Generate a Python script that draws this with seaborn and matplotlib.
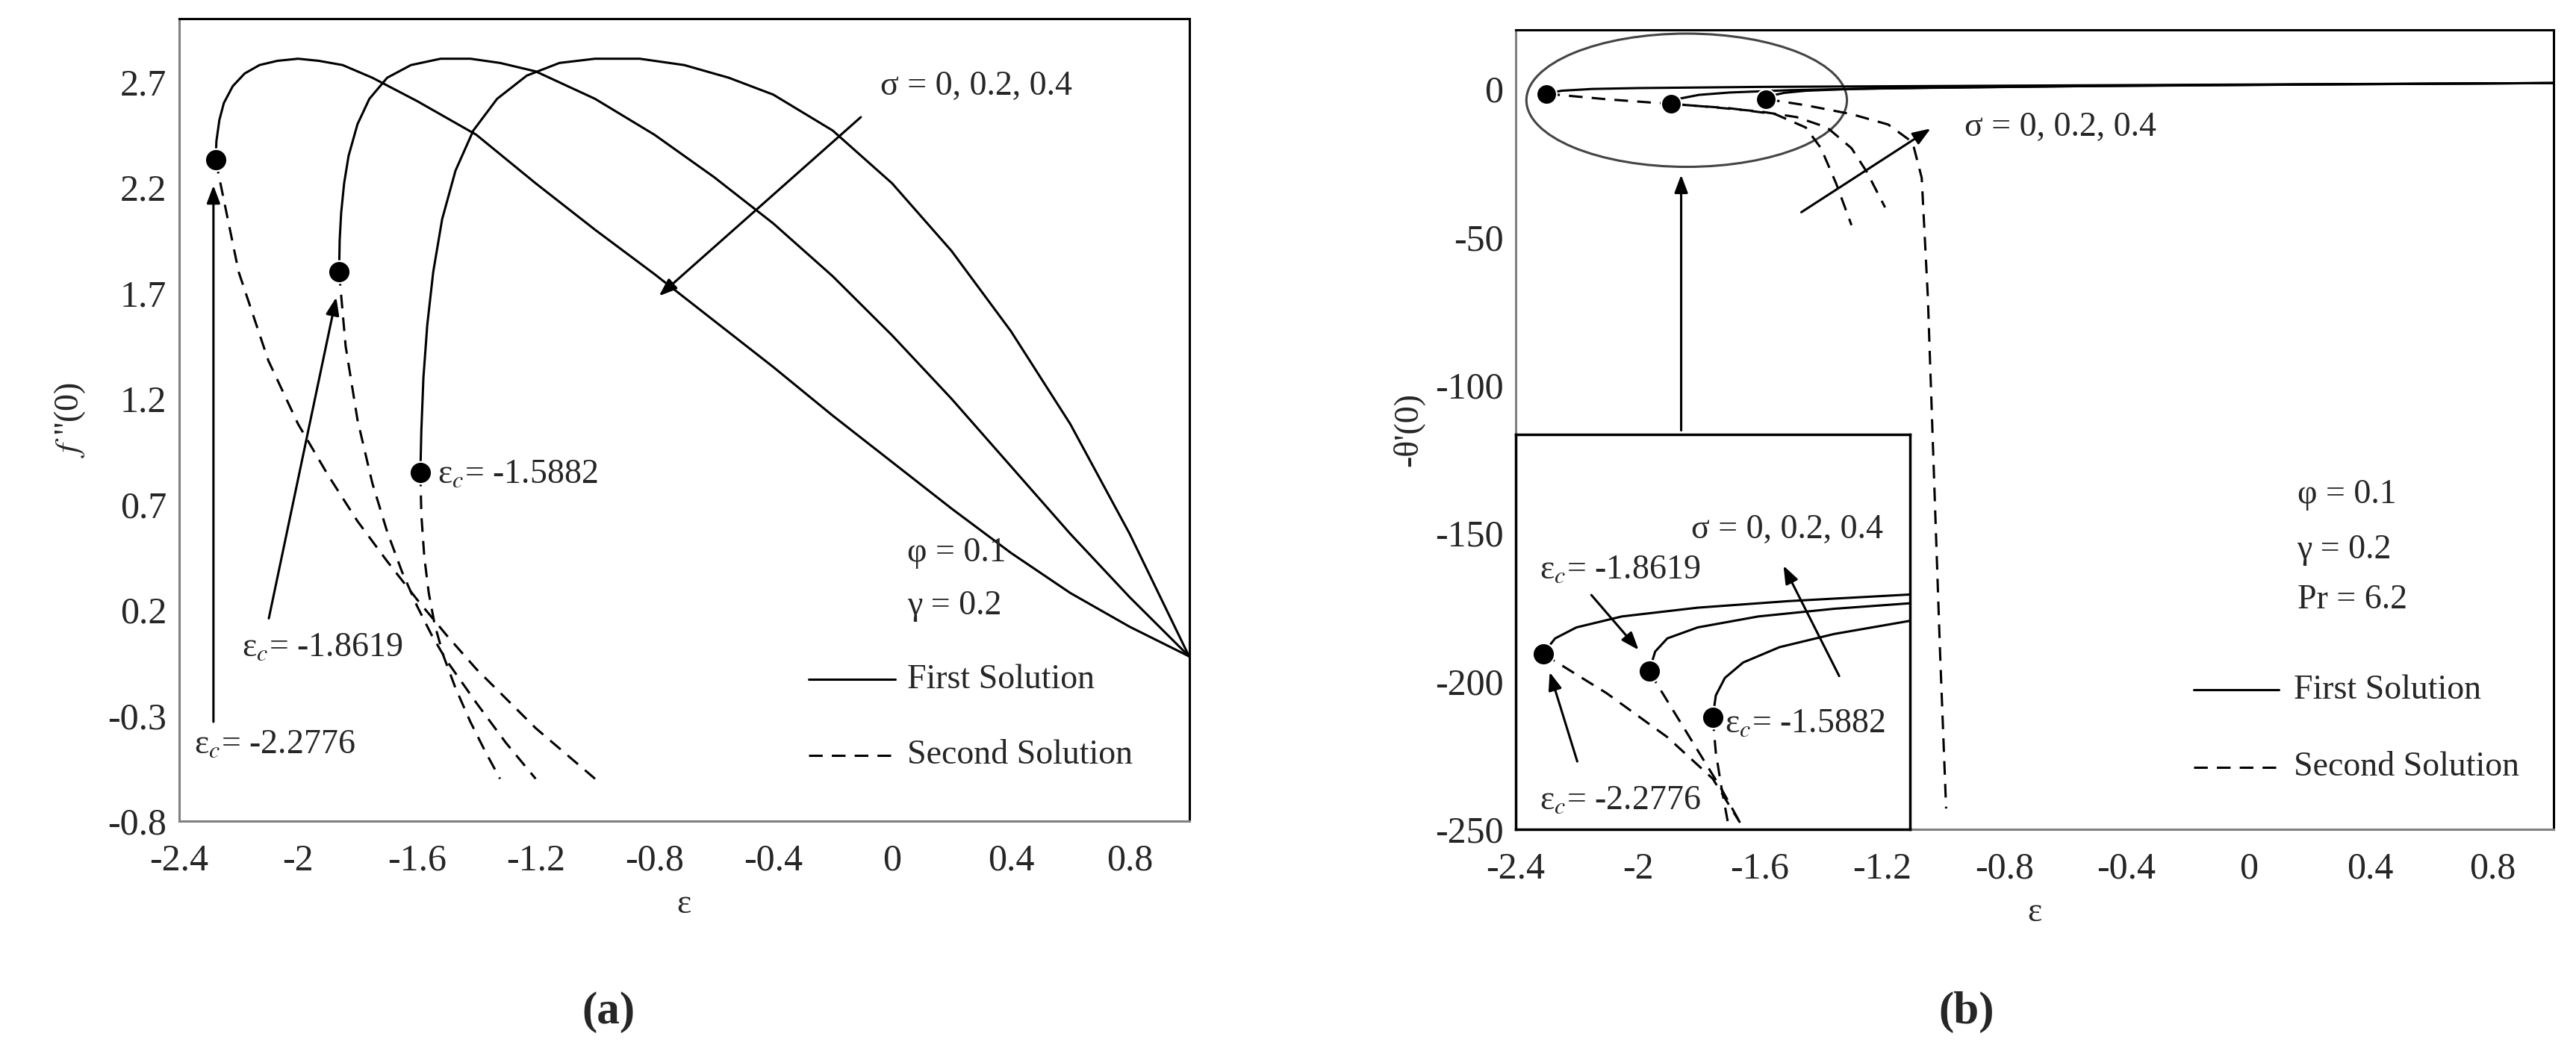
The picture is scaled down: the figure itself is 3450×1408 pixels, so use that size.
import numpy as np
import pandas as pd
import matplotlib
matplotlib.use("Agg")
import matplotlib.pyplot as plt
from matplotlib.patches import Ellipse
import seaborn as sns

sns.set_theme(style="white")
plt.rcParams['font.family'] = ['Liberation Serif', 'DejaVu Serif']
plt.rcParams['mathtext.fontset'] = 'stix'

# ---------- Panel (a) data ----------
a_first_s0_x = [-2.2776, -2.275, -2.265, -2.25, -2.22, -2.18, -2.13, -2.07, -2.00, -1.93, -1.85, -1.75, -1.60, -1.40, -1.20, -1.00, -0.80, -0.60, -0.40, -0.20, 0.00, 0.20, 0.40, 0.60, 0.80, 1.00]
a_first_s0_y = [2.33, 2.42, 2.52, 2.60, 2.68, 2.74, 2.78, 2.80, 2.81, 2.80, 2.78, 2.72, 2.61, 2.45, 2.22, 2.00, 1.79, 1.57, 1.35, 1.12, 0.90, 0.68, 0.47, 0.28, 0.12, -0.02]
a_first_s2_x = [-1.8619, -1.86, -1.855, -1.845, -1.83, -1.80, -1.76, -1.70, -1.62, -1.52, -1.42, -1.32, -1.20, -1.00, -0.80, -0.60, -0.40, -0.20, 0.00, 0.20, 0.40, 0.60, 0.80, 1.00]
a_first_s2_y = [1.80, 1.95, 2.08, 2.22, 2.35, 2.50, 2.62, 2.72, 2.78, 2.81, 2.81, 2.79, 2.75, 2.62, 2.45, 2.25, 2.03, 1.78, 1.50, 1.20, 0.88, 0.56, 0.26, -0.02]
a_first_s4_x = [-1.5882, -1.585, -1.578, -1.565, -1.545, -1.515, -1.47, -1.41, -1.33, -1.23, -1.12, -1.00, -0.85, -0.70, -0.55, -0.40, -0.20, 0.00, 0.20, 0.40, 0.60, 0.80, 1.00]
a_first_s4_y = [0.85, 1.05, 1.30, 1.55, 1.80, 2.05, 2.28, 2.47, 2.62, 2.73, 2.79, 2.81, 2.81, 2.78, 2.72, 2.64, 2.47, 2.22, 1.90, 1.52, 1.08, 0.56, -0.02]
a_second_s0_x = [-2.2776, -2.20, -2.10, -2.00, -1.90, -1.80, -1.70, -1.60, -1.50, -1.40, -1.30, -1.20, -1.10, -1.00]
a_second_s0_y = [2.33, 1.80, 1.38, 1.08, 0.84, 0.62, 0.43, 0.25, 0.08, -0.08, -0.22, -0.36, -0.48, -0.60]
a_second_s2_x = [-1.8619, -1.84, -1.80, -1.75, -1.70, -1.65, -1.60, -1.55, -1.50, -1.40, -1.30, -1.20]
a_second_s2_y = [1.80, 1.45, 1.10, 0.80, 0.57, 0.38, 0.22, 0.08, -0.04, -0.24, -0.43, -0.60]
a_second_s4_x = [-1.5882, -1.585, -1.575, -1.56, -1.54, -1.51, -1.47, -1.42, -1.37, -1.32]
a_second_s4_y = [0.85, 0.65, 0.45, 0.28, 0.13, -0.02, -0.17, -0.33, -0.47, -0.60]
a_crit_x = [-2.2776, -1.8619, -1.5882]
a_crit_y = [2.33, 1.80, 0.85]

# ---------- Panel (b) data ----------
b_first_s0_x = [-2.30, -2.25, -2.15, -2.00, -1.60, -1.00, -0.40, 0.20, 1.00]
b_first_s0_y = [-1.6, -0.6, 0.0, 0.3, 0.7, 1.0, 1.3, 1.6, 2.0]
b_first_s2_x = [-1.89, -1.86, -1.80, -1.70, -1.50, -1.20, -0.60, 0.20, 1.00]
b_first_s2_y = [-5.0, -3.2, -2.0, -1.2, -0.4, 0.2, 0.9, 1.5, 2.0]
b_first_s4_x = [-1.58, -1.56, -1.52, -1.45, -1.30, -1.00, -0.40, 0.30, 1.00]
b_first_s4_y = [-3.4, -2.2, -1.3, -0.6, 0.0, 0.5, 1.1, 1.6, 2.0]
b_second_s0_x = [-2.30, -2.10, -1.90, -1.70, -1.55, -1.45, -1.40, -1.35, -1.30]
b_second_s0_y = [-1.6, -3.5, -5.0, -6.5, -8.5, -13.0, -20.0, -32.0, -46.0]
b_second_s2_x = [-1.89, -1.75, -1.60, -1.48, -1.38, -1.30, -1.25, -1.19]
b_second_s2_y = [-5.0, -6.2, -7.6, -9.5, -13.0, -20.0, -28.0, -40.0]
b_second_s4_x = [-1.58, -1.45, -1.30, -1.18, -1.10, -1.07, -1.05, -1.03, -1.01, -0.99]
b_second_s4_y = [-3.4, -5.5, -8.5, -12.0, -18.0, -30.0, -70.0, -130.0, -190.0, -243.0]
b_crit_x = [-2.30, -1.89, -1.58]
b_crit_y = [-1.6, -5.0, -3.4]

# ---------- Panel (b) inset (magnified view) ----------
in_first_s0_x = [-2.31, -2.27, -2.20, -2.05, -1.80, -1.50, -1.10]
in_first_s0_y = [-8.0, -7.3, -6.8, -6.3, -5.9, -5.6, -5.3]
in_first_s2_x = [-1.96, -1.94, -1.90, -1.80, -1.60, -1.35, -1.10]
in_first_s2_y = [-8.8, -7.9, -7.3, -6.8, -6.3, -5.95, -5.7]
in_first_s4_x = [-1.75, -1.74, -1.71, -1.65, -1.53, -1.35, -1.10]
in_first_s4_y = [-10.9, -9.9, -9.1, -8.4, -7.7, -7.1, -6.5]
in_second_s0_x = [-2.31, -2.10, -1.90, -1.75, -1.66]
in_second_s0_y = [-8.0, -9.8, -11.8, -13.7, -15.7]
in_second_s2_x = [-1.96, -1.88, -1.80, -1.72, -1.66]
in_second_s2_y = [-8.8, -10.6, -12.4, -14.2, -15.7]
in_second_s4_x = [-1.75, -1.74, -1.72, -1.70]
in_second_s4_y = [-10.9, -12.5, -14.2, -15.7]
in_crit_x = [-2.31, -1.96, -1.75]
in_crit_y = [-8.0, -8.8, -10.9]

x_ticks = [-2.4, -2.0, -1.6, -1.2, -0.8, -0.4, 0.0, 0.4, 0.8]
x_tick_labels = ["-2.4", "-2", "-1.6", "-1.2", "-0.8", "-0.4", "0", "0.4", "0.8"]
a_y_ticks = [-0.8, -0.3, 0.2, 0.7, 1.2, 1.7, 2.2, 2.7]
b_y_ticks = [-250, -200, -150, -100, -50, 0]

FS = 33
LW = 2.2
fig = plt.figure(figsize=(34.5, 14.08), dpi=100)
axa = fig.add_axes([0.0696, 0.2188, 0.392, 0.7635])
axb = fig.add_axes([0.5884, 0.211, 0.4029, 0.7607])
axi = fig.add_axes([0.5884, 0.211, 0.153, 0.3757])

def curve(ax, x, y, dashed=False):
    sns.lineplot(x=x, y=y, ax=ax, sort=False, estimator=None, color='black',
                 linewidth=LW, linestyle=(0, (6, 4)) if dashed else '-', legend=False)

def arrow(ax, xy_from, xy_to):
    ax.annotate('', xy=xy_to, xytext=xy_from,
                arrowprops=dict(arrowstyle='-|>,head_length=1.2,head_width=0.45', color='black', lw=2.2))

EC = "ε$_{c}$"

# Panel a
for x, y in [(a_first_s0_x, a_first_s0_y), (a_first_s2_x, a_first_s2_y), (a_first_s4_x, a_first_s4_y)]:
    curve(axa, x, y)
for x, y in [(a_second_s0_x, a_second_s0_y), (a_second_s2_x, a_second_s2_y), (a_second_s4_x, a_second_s4_y)]:
    curve(axa, x, y, True)
sns.scatterplot(x=a_crit_x, y=a_crit_y, ax=axa, color='black', s=450, zorder=5, legend=False)
axa.set_xlim(-2.4, 1.0)
axa.set_ylim(-0.8, 3.0)
axa.set_xticks(x_ticks, x_tick_labels)
axa.set_yticks(a_y_ticks, [f"{v:g}" for v in a_y_ticks])
axa.tick_params(axis='x', direction='in', length=12, width=2, color='gray', labelsize=FS+3, pad=22)
axa.tick_params(axis='y', direction='in', length=0, labelsize=FS+3, pad=12)
for s in axa.spines.values():
    s.set_color('black'); s.set_linewidth(2.2)
axa.spines['bottom'].set_color('gray'); axa.spines['left'].set_color('gray')
axa.set_xlabel("ε", fontsize=FS, labelpad=10)
axa.set_ylabel("$f$ ''(0)", fontsize=FS, rotation=90, labelpad=20)
axa.text(-0.04, 2.68, "σ = 0, 0.2, 0.4", fontsize=FS, va='center')
arrow(axa, (-0.10, 2.54), (-0.79, 1.68))
axa.text(-1.53, 0.84, EC + "= -1.5882", fontsize=FS, va='center')
axa.text(0.05, 0.47, "φ = 0.1", fontsize=FS, va='center')
axa.text(0.05, 0.22, "γ = 0.2", fontsize=FS, va='center')
axa.plot([-0.28, 0.01], [-0.13, -0.13], color='black', lw=LW)
axa.text(0.05, -0.13, "First Solution", fontsize=FS, va='center')
axa.plot([-0.28, 0.01], [-0.49, -0.49], color='black', lw=LW, linestyle=(0, (6, 4)))
axa.text(0.05, -0.49, "Second Solution", fontsize=FS, va='center')
axa.text(-2.19, 0.02, EC + "= -1.8619", fontsize=FS, va='center')
arrow(axa, (-2.10, 0.15), (-1.87, 1.69))
axa.text(-2.35, -0.44, EC + "= -2.2776", fontsize=FS, va='center')
arrow(axa, (-2.285, -0.34), (-2.285, 2.22))

# Panel b
for x, y in [(b_first_s0_x, b_first_s0_y), (b_first_s2_x, b_first_s2_y), (b_first_s4_x, b_first_s4_y)]:
    curve(axb, x, y)
for x, y in [(b_second_s0_x, b_second_s0_y), (b_second_s2_x, b_second_s2_y), (b_second_s4_x, b_second_s4_y)]:
    curve(axb, x, y, True)
sns.scatterplot(x=b_crit_x, y=b_crit_y, ax=axb, color='black', s=380, zorder=5, legend=False)
axb.set_xlim(-2.4, 1.0)
axb.set_ylim(-250, 20)
axb.set_xticks(x_ticks, x_tick_labels)
axb.set_yticks(b_y_ticks, [str(v) for v in b_y_ticks])
axb.tick_params(axis='x', direction='in', length=12, width=2, color='gray', labelsize=FS+3, pad=22)
axb.tick_params(axis='y', direction='in', length=0, labelsize=FS+3, pad=12)
for s in axb.spines.values():
    s.set_color('black'); s.set_linewidth(2.2)
axb.spines['bottom'].set_color('gray'); axb.spines['left'].set_color('gray')
axb.set_xlabel("ε", fontsize=FS, labelpad=10)
axb.set_ylabel("-θ'(0)", fontsize=FS, rotation=90, labelpad=10)
axb.add_patch(Ellipse((-1.84, -3.8), 1.05, 45, fill=False, edgecolor='#444444', lw=2.2))
arrow(axb, (-1.858, -116), (-1.858, -28.3))
axb.text(-0.93, -12.9, "σ = 0, 0.2, 0.4", fontsize=FS, va='center')
arrow(axb, (-1.47, -42), (-1.035, -13))
axb.text(0.16, -137, "φ = 0.1", fontsize=FS, va='center')
axb.text(0.16, -155.6, "γ = 0.2", fontsize=FS, va='center')
axb.text(0.16, -172.5, "Pr = 6.2", fontsize=FS, va='center')
axb.plot([-0.18, 0.10], [-203, -203], color='black', lw=LW)
axb.text(0.15, -203, "First Solution", fontsize=FS, va='center')
axb.plot([-0.18, 0.10], [-229, -229], color='black', lw=LW, linestyle=(0, (6, 4)))
axb.text(0.15, -229, "Second Solution", fontsize=FS, va='center')

# Inset
for x, y in [(in_first_s0_x, in_first_s0_y), (in_first_s2_x, in_first_s2_y), (in_first_s4_x, in_first_s4_y)]:
    curve(axi, x, y)
for x, y in [(in_second_s0_x, in_second_s0_y), (in_second_s2_x, in_second_s2_y), (in_second_s4_x, in_second_s4_y)]:
    curve(axi, x, y, True)
sns.scatterplot(x=in_crit_x, y=in_crit_y, ax=axi, color='black', s=450, zorder=5, legend=False)
axi.set_xlim(-2.4, -1.1)
axi.set_ylim(-16, 2)
axi.set_xticks([]); axi.set_yticks([])
axi.set_xlabel(''); axi.set_ylabel('')
for s in axi.spines.values():
    s.set_color('black'); s.set_linewidth(2.5)
axi.text(-1.82, -2.34, "σ = 0, 0.2, 0.4", fontsize=FS, va='center')
axi.text(-2.32, -4.2, EC + "= -1.8619", fontsize=FS, va='center')
arrow(axi, (-2.155, -5.25), (-1.99, -7.9))
arrow(axi, (-1.33, -9.1), (-1.52, -3.9))
axi.text(-1.71, -11.2, EC + "= -1.5882", fontsize=FS, va='center')
axi.text(-2.32, -14.7, EC + "= -2.2776", fontsize=FS, va='center')
arrow(axi, (-2.195, -13.0), (-2.29, -8.75))

fig.text(815 / 3450, 1 - 1356 / 1408, "(a)", fontsize=44, fontweight='bold', ha='center', va='center')
fig.text(2634 / 3450, 1 - 1356 / 1408, "(b)", fontsize=44, fontweight='bold', ha='center', va='center')
fig.savefig("out.png", dpi=100, facecolor='white')
